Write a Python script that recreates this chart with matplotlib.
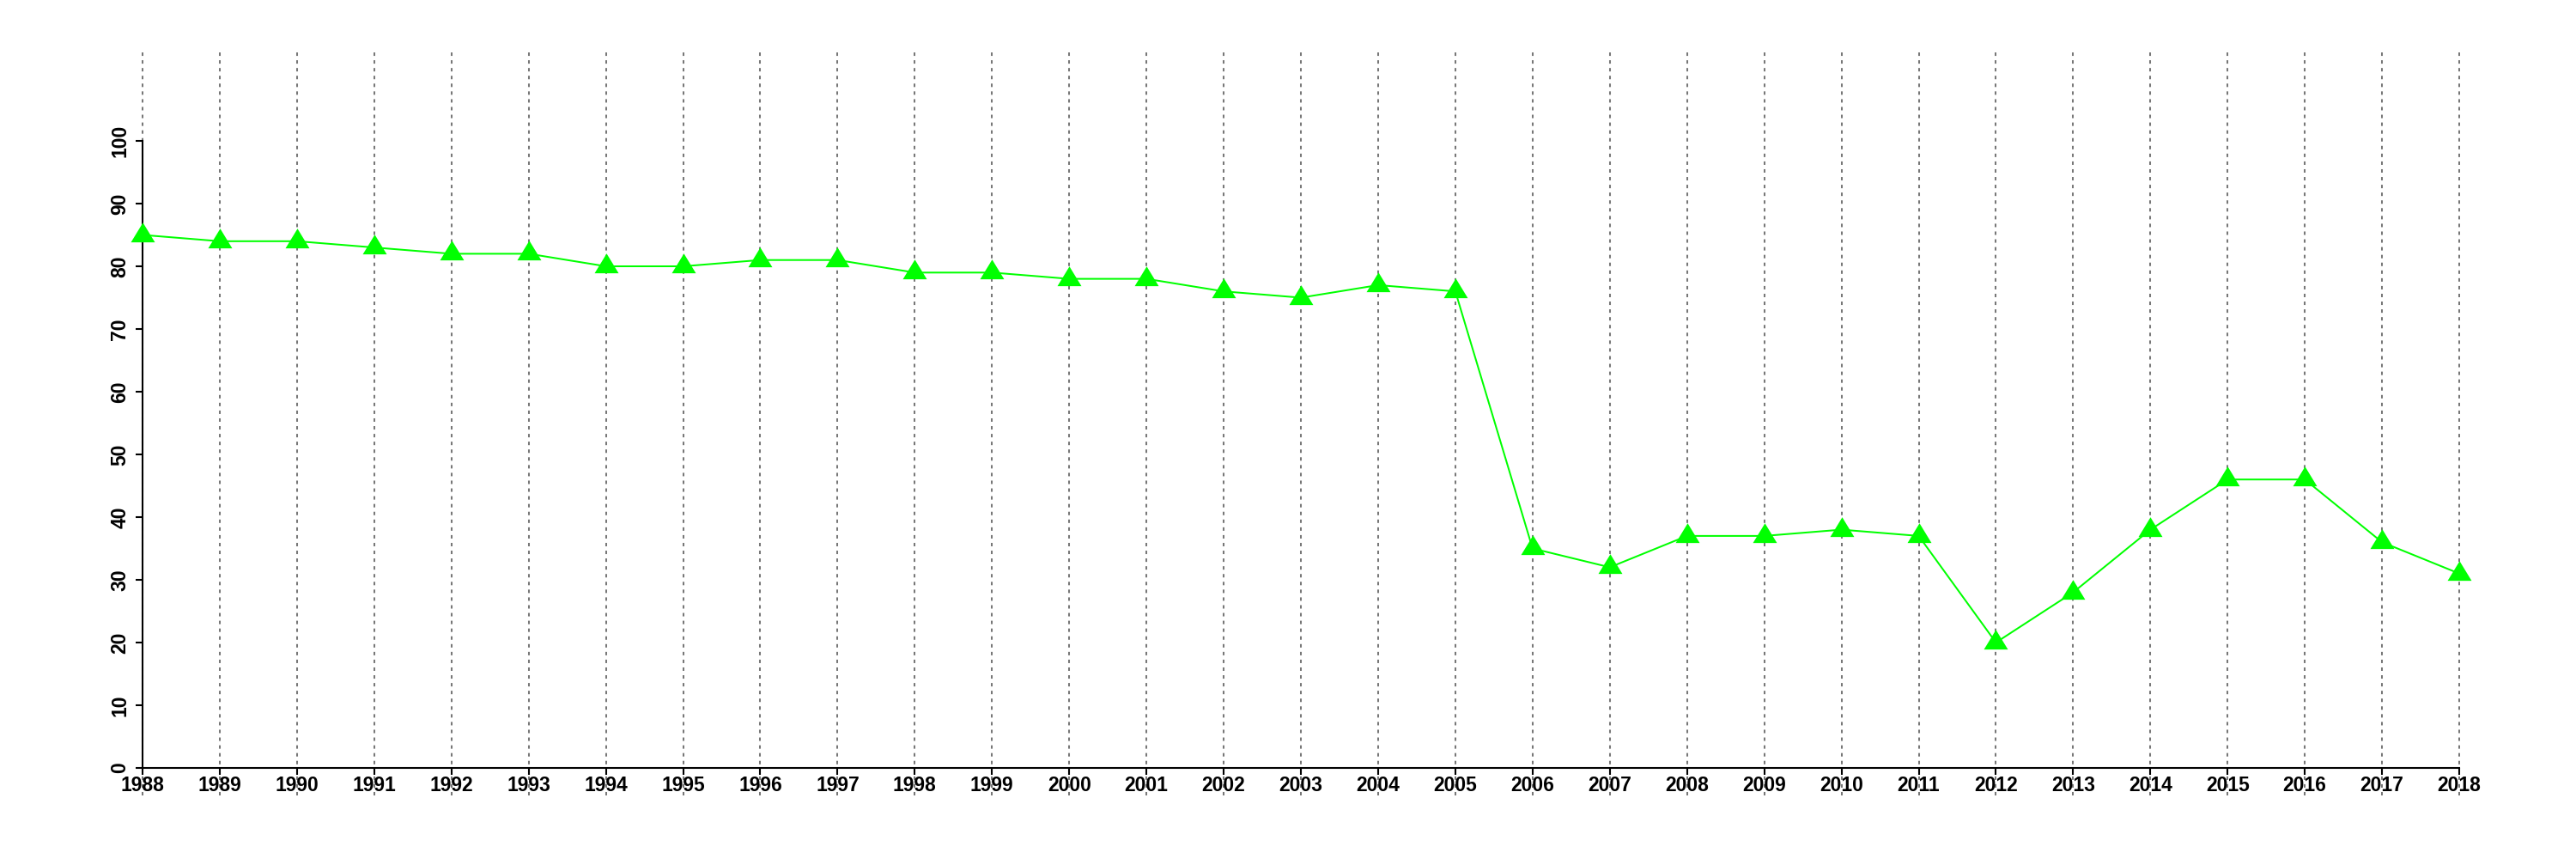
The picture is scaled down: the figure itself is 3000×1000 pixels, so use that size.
import numpy as np
import matplotlib.pyplot as plt

years = list(range(1988, 2019))
values = [85, 84, 84, 83, 82, 82, 80, 80, 81, 81,
          79, 79, 78, 78, 76, 75, 77, 76, 35, 32,
          37, 37, 38, 37, 20, 28, 38, 46, 46, 36, 31]
y_ticks = list(range(0, 101, 10))

plt.rcParams['font.family'] = ['Liberation Sans', 'DejaVu Sans']

fig = plt.figure(figsize=(30, 10), dpi=100)
# plot region like R: 4% padding around xlim 1988-2018 and ylim 0-110
ax = fig.add_axes([0.01936, 0.0739, 0.9713, 0.8672])
ax.set_xlim(1986.8, 2019.2)
ax.set_ylim(-4.4, 114.4)

for yr in years:
    ax.axvline(yr, color='#777777', lw=1.45, linestyle=(0, (2.0, 2.5)), zorder=1)

# triangle with its centroid on the data point
tri = [(0, 1), (-0.915, -0.5), (0.915, -0.5)]
ax.plot(years, values, color='#00ff00', lw=1.45, marker=tri, markersize=22,
        markeredgewidth=0, zorder=3)

for s in ['top', 'right']:
    ax.spines[s].set_visible(False)
ax.spines['left'].set_position(('data', 1988))
ax.spines['left'].set_bounds(0, 100)
ax.spines['bottom'].set_position(('data', 0))
ax.spines['bottom'].set_bounds(1988, 2018)
ax.spines['left'].set_linewidth(1.5)
ax.spines['bottom'].set_linewidth(1.5)

ax.set_xticks(years)
ax.set_xticklabels([str(y) for y in years])
ax.set_yticks(y_ticks)
ax.set_yticklabels([str(v) for v in y_ticks], rotation=90, va='center')
ax.tick_params(axis='x', length=5.5, width=1.5, pad=1, labelsize=16.5)
ax.tick_params(axis='y', length=5.5, width=1.5, pad=5, labelsize=16.5)
for lab in ax.get_xticklabels() + ax.get_yticklabels():
    lab.set_fontweight('bold')

fig.savefig('out.png', dpi=100)
